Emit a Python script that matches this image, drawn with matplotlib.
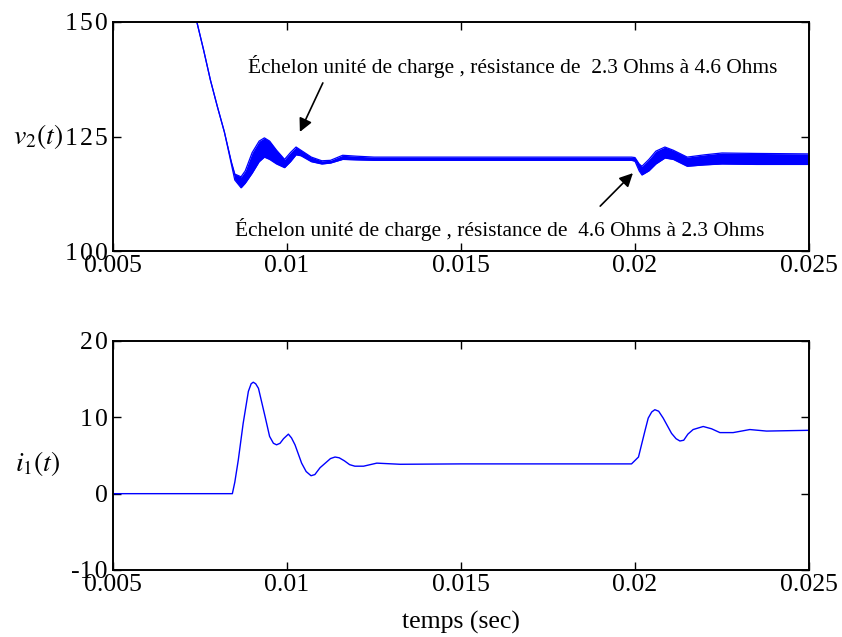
import matplotlib
matplotlib.use('Agg')
import matplotlib.pyplot as plt

plt.rcParams['font.family'] = ['Liberation Serif', 'DejaVu Serif']
plt.rcParams['mathtext.fontset'] = 'stix'
plt.rcParams['axes.unicode_minus'] = False

# tension v2(t): upper / lower envelope of the ripple band
t_v = [0.0074, 0.0076, 0.0078, 0.0080, 0.0082, 0.0084, 0.0085, 0.00868, 0.0088,
       0.0090, 0.0092, 0.00935, 0.0095, 0.0097, 0.00993, 0.0101, 0.01026, 0.0104,
       0.0107, 0.0110, 0.01125, 0.0116, 0.0120, 0.0125, 0.0150, 0.0175, 0.0199,
       0.0200, 0.02012, 0.0202, 0.0204, 0.0206, 0.02086, 0.0211, 0.0215, 0.0220,
       0.0225, 0.0235, 0.0250]
v2_hi = [150.3, 144.0, 137.3, 131.5, 126.0, 119.5, 116.8, 116.2, 117.5,
         121.5, 124.0, 124.7, 124.0, 122.0, 120.0, 121.5, 122.7, 122.0,
         120.5, 119.7, 119.8, 120.9, 120.7, 120.5, 120.5, 120.5, 120.5,
         120.4, 119.0, 118.5, 120.0, 121.8, 122.7, 122.0, 120.5, 121.0,
         121.4, 121.3, 121.2]
v2_lo = [150.3, 144.0, 137.3, 131.5, 126.0, 119.0, 115.5, 113.8, 114.8,
         117.0, 119.5, 120.5, 120.0, 119.0, 118.2, 119.5, 121.0, 120.8,
         119.5, 119.0, 119.2, 120.0, 119.9, 119.8, 119.8, 119.8, 119.8,
         119.6, 117.5, 116.6, 117.5, 119.0, 120.3, 120.0, 118.5, 118.8,
         119.0, 118.9, 118.9]

# courant i1(t)
t_i = [0.005, 0.00843, 0.0085, 0.0086, 0.00874, 0.00889, 0.00897, 0.00903,
       0.0091, 0.00918, 0.00937, 0.0095, 0.00961, 0.0097, 0.0098, 0.0099,
       0.01004, 0.01013, 0.01023, 0.01042, 0.01055, 0.01069, 0.0108, 0.01095,
       0.0111, 0.01125, 0.01138, 0.0115, 0.01165, 0.0118, 0.01195, 0.0122,
       0.01258, 0.01325, 0.0150, 0.0175, 0.0199, 0.0201, 0.02029, 0.02038,
       0.02048, 0.02057, 0.02068, 0.02081, 0.02105, 0.02118, 0.02129, 0.0214,
       0.02152, 0.02167, 0.02196, 0.0222, 0.02244, 0.02282, 0.0233, 0.02378,
       0.025]
i1 = [0.0, 0.0, 1.5, 4.4, 9.2, 13.4, 14.4, 14.6,
      14.4, 13.8, 10.1, 7.5, 6.6, 6.4, 6.6, 7.2,
      7.8, 7.3, 6.4, 4.0, 2.9, 2.35, 2.5, 3.4,
      4.0, 4.6, 4.8, 4.7, 4.3, 3.8, 3.6, 3.6,
      4.0, 3.85, 3.9, 3.9, 3.9, 4.8, 8.3, 9.9,
      10.7, 11.0, 10.8, 9.9, 7.9, 7.2, 6.9, 7.0,
      7.8, 8.4, 8.8, 8.5, 8.0, 8.0, 8.4, 8.2,
      8.3]

x_ticks = [0.005, 0.01, 0.015, 0.02, 0.025]
x_labels = ['0.005', '0.01', '0.015', '0.02', '0.025']
v_ticks = [100, 125, 150]
i_ticks = [-10, 0, 10, 20]

def spaced(n):
    # matlab export puts a little room between digits
    s = '\u200a'.join(str(abs(n)))
    return '-' + s if n < 0 else s

W, H = 842, 637
fig = plt.figure(figsize=(W / 100, H / 100), dpi=100)
ax1 = fig.add_axes([113 / W, 1 - 251 / H, 696 / W, 229 / H])
ax2 = fig.add_axes([113 / W, 1 - 570 / H, 696 / W, 229 / H])

blue = '#0000ff'
ax1.fill_between(t_v, v2_lo, v2_hi, color=blue, lw=0)
ax1.plot(t_v, v2_hi, color=blue, lw=0.9)
ax1.plot(t_v, v2_lo, color=blue, lw=0.9)
ax2.plot(t_i, i1, color=blue, lw=1.0)

ax1.set_ylim(100, 150)
ax1.set_yticks(v_ticks)
ax1.set_yticklabels([spaced(v) for v in v_ticks])
ax2.set_ylim(-10, 20)
ax2.set_yticks(i_ticks)
ax2.set_yticklabels([spaced(v) for v in i_ticks])

for ax in (ax1, ax2):
    ax.set_xlim(0.005, 0.025)
    ax.set_xticks(x_ticks)
    ax.set_xticklabels(x_labels)
    ax.tick_params(direction='in', top=True, right=True, labelsize=18.5,
                   length=6, width=1)
    ax.tick_params(axis='x', pad=3)
    ax.tick_params(axis='y', pad=4)
    for s in ax.spines.values():
        s.set_linewidth(1.4)

fig.text(13 / W, 1 - 136 / H, '$v_2(t)$', fontsize=20, va='center', ha='left')
fig.text(15 / W, 1 - 464 / H, '$i_1(t)$', fontsize=20, va='center', ha='left')
fig.text(461 / W, 1 - 622 / H, 'temps (sec)', fontsize=18.5, va='center', ha='center')

arrow = dict(arrowstyle='-|>', color='k', lw=1.2, mutation_scale=20, shrinkA=0, shrinkB=0)
ax1.annotate('', xy=(0.01037, 126.0), xytext=(0.01103, 136.7), arrowprops=arrow)
ax1.annotate('', xy=(0.01994, 117.0), xytext=(0.0190, 109.8), arrowprops=arrow)
ax1.text(0.01648, 140.2, 'Échelon unité de charge , résistance de  2.3 Ohms à 4.6 Ohms',
         fontsize=15.4, ha='center', va='center')
ax1.text(0.01611, 104.8, 'Échelon unité de charge , résistance de  4.6 Ohms à 2.3 Ohms',
         fontsize=15.4, ha='center', va='center')

fig.savefig('out.png', dpi=100)
